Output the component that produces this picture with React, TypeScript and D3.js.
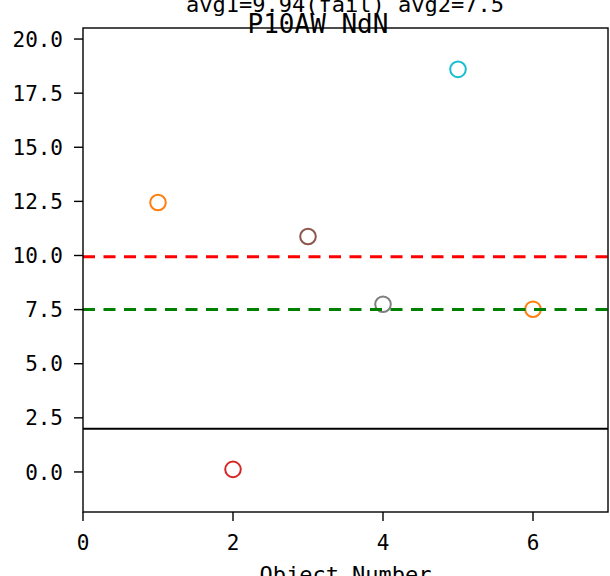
import React from "react";
import * as d3 from "d3";

const objectNumbers = [1, 2, 3, 4, 5, 6];
const values = [12.45, 0.12, 10.88, 7.75, 18.6, 7.52];
const pointColors = ["#ff7f0e", "#d62728", "#8c564b", "#7f7f7f", "#17becf", "#ff7f0e"];
const xTicks = [0, 2, 4, 6];
const yTicks = [0, 2.5, 5, 7.5, 10, 12.5, 15, 17.5, 20];
const avg1 = 9.94;
const avg2 = 7.5;
const threshold = 2.0;
const suptitle = "avg1=9.94(fail) avg2=7.5";
const title = "P10AW NdN";
const xLabel = "Object Number";

const W = 610;
const H = 576;
const left = 83;
const right = 608;
const top = 28;
const bottom = 512;
const font = "'DejaVu Sans Mono', 'Liberation Mono', monospace";

export default function App() {
  const x = d3.scaleLinear().domain([0, 7]).range([left, right]);
  const y = d3.scaleLinear().domain([-1.85, 20.51]).range([bottom, top]);

  return (
    <svg
      width={W}
      height={H}
      style={{ position: "absolute", left: 0, top: 0, background: "#fff" }}
      fontFamily={font}
    >
      <rect x={0} y={0} width={W} height={H} fill="#fff" />
      {objectNumbers.map((n, i) => (
        <circle
          key={i}
          cx={x(n)}
          cy={y(values[i])}
          r={7.8}
          fill="none"
          stroke={pointColors[i]}
          strokeWidth={2}
        />
      ))}
      <line x1={left} x2={right} y1={y(avg1)} y2={y(avg1)} stroke="#ff0000" strokeWidth={3} strokeDasharray="12,8.5" />
      <line x1={left} x2={right} y1={y(avg2)} y2={y(avg2)} stroke="#008000" strokeWidth={3} strokeDasharray="12,8.5" />
      <line x1={left} x2={right} y1={y(threshold)} y2={y(threshold)} stroke="#000" strokeWidth={2} />
      <rect x={left} y={top} width={right - left} height={bottom - top} fill="none" stroke="#000" strokeWidth={1.4} />
      {yTicks.map((t) => {
        const label = t.toFixed(1);
        return (
          <g key={t}>
            <line x1={left - 9} x2={left} y1={y(t)} y2={y(t)} stroke="#000" strokeWidth={1.4} />
            <text
              x={left - 20}
              y={y(t)}
              dy="0.36em"
              textAnchor="end"
              fontSize={21}
              textLength={label.length * 12.6}
              lengthAdjust="spacing"
              fill="#000"
            >
              {label}
            </text>
          </g>
        );
      })}
      {xTicks.map((t) => (
        <g key={t}>
          <line x1={x(t)} x2={x(t)} y1={bottom} y2={bottom + 9} stroke="#000" strokeWidth={1.4} />
          <text x={x(t)} y={550} textAnchor="middle" fontSize={21} fill="#000">
            {t}
          </text>
        </g>
      ))}
      <text x={(left + right) / 2} y={582} textAnchor="middle" fontSize={22} fill="#000">
        {xLabel}
      </text>
      <text x={345} y={12} textAnchor="middle" fontSize={22} fill="#000">
        {suptitle}
      </text>
      <text x={318} y={33} textAnchor="middle" fontSize={26} fill="#000">
        {title}
      </text>
    </svg>
  );
}
